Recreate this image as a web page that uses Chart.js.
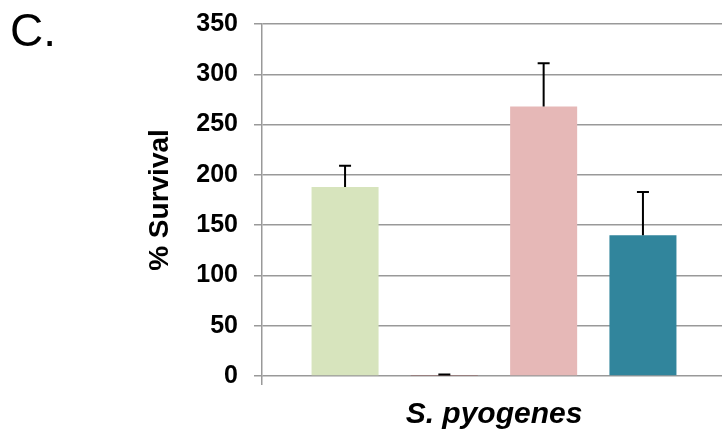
<!DOCTYPE html>
<html>
<head>
<meta charset="utf-8">
<script src="https://cdn.jsdelivr.net/npm/chart.js@4"></script>
<style>
    html, body { margin: 0; padding: 0; background: #fff; overflow: hidden; }
    #wrap { position: relative; width: 730px; height: 433px; }
    #panel {
        position: absolute; left: 10px; top: 7px;
        font: 46px/46px "Liberation Sans", Arial, sans-serif;
        color: #000;
    }
</style>
</head>
<body>
<div id="wrap">
    <canvas id="survivalChart" width="730" height="433"></canvas>
    <div id="panel">C.</div>
</div>
<script>
// values
const categories = ['S. pyogenes'];
const seriesNames = ['Group 1', 'Group 2', 'Group 3', 'Group 4'];
const survival = [188, 0.5, 268, 140];
const survivalErr = [21, 1, 43, 43];
const barColors = ['#d7e4bd', '#953735', '#e6b8b7', '#31859c'];
const yMin = 0;
const yMax = 350;
const yStep = 50;

const FONT = '"Liberation Sans", Arial, sans-serif';

// draws the upper error bars on top of each bar
const errorBars = {
    id: 'errorBars',
    afterDatasetsDraw(chart) {
        const ctx = chart.ctx;
        const y = chart.scales.y;
        ctx.save();
        ctx.strokeStyle = '#000';
        ctx.lineWidth = 2;
        chart.data.datasets.forEach((ds, i) => {
            const bar = chart.getDatasetMeta(i).data[0];
            if (!bar) return;
            const top = y.getPixelForValue(ds.data[0] + ds.err);
            ctx.beginPath();
            ctx.moveTo(bar.x, bar.y);
            ctx.lineTo(bar.x, top);
            ctx.moveTo(bar.x - 6, top);
            ctx.lineTo(bar.x + 6, top);
            ctx.stroke();
        });
        ctx.restore();
    }
};

new Chart(document.getElementById('survivalChart'), {
    type: 'bar',
    data: {
        labels: categories,
        datasets: survival.map((v, i) => ({
            label: seriesNames[i],
            data: [v],
            err: survivalErr[i],
            backgroundColor: barColors[i],
            categoryPercentage: 0.856,
            barPercentage: 0.675
        }))
    },
    options: {
        responsive: false,
        animation: false,
        layout: { padding: { left: 0, top: 24, right: 4, bottom: 2 } },
        plugins: {
            legend: { display: false },
            tooltip: { enabled: false }
        },
        scales: {
            x: {
                afterFit(scale) { scale.height = 55; },
                grid: {
                    drawOnChartArea: false,
                    tickLength: 9,
                    color: '#999',
                    lineWidth: 1.5
                },
                border: { display: false },
                ticks: {
                    color: '#000',
                    padding: 12,
                    maxRotation: 0,
                    font: { family: FONT, size: 30, weight: 'bold', style: 'italic' }
                }
            },
            y: {
                min: yMin,
                max: yMax,
                afterFit(scale) {
                    scale.width = 262;
                    scale.paddingTop = 0;
                    scale.paddingBottom = 0;
                },
                grid: {
                    color: '#999',
                    lineWidth: 1.5,
                    tickLength: 8
                },
                border: { color: '#999', width: 1.5 },
                ticks: {
                    stepSize: yStep,
                    color: '#000',
                    padding: 16,
                    font: { family: FONT, size: 25, weight: 'bold' }
                },
                title: {
                    display: true,
                    text: '% Survival',
                    color: '#000',
                    padding: { top: 143, bottom: 0 },
                    font: { family: FONT, size: 28, weight: 'bold' }
                }
            }
        }
    },
    plugins: [errorBars]
});
</script>
</body>
</html>
